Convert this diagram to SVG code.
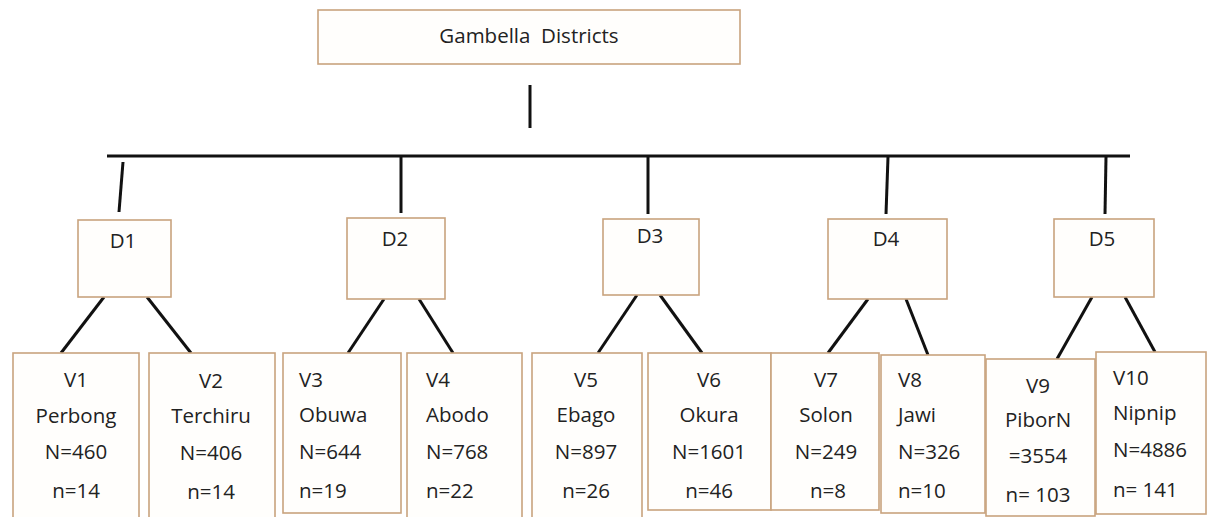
<svg xmlns="http://www.w3.org/2000/svg" width="1208" height="517" viewBox="0 0 1208 517">
<style>
.box{fill:#fffefc;stroke:#c9a37e;stroke-width:1.6}
.t{font-family:"Open Sans","Liberation Sans",sans-serif;font-size:20.5px;fill:#222}
.c{text-anchor:middle}
.ln{stroke:#111;stroke-width:3;fill:none;stroke-linecap:butt}
</style>
<rect width="1208" height="517" fill="#ffffff"/>
<g id="connectors">
<line class="ln" x1="530" y1="85" x2="530" y2="128"/>
<line class="ln" x1="107" y1="156" x2="1130" y2="156"/>
<line class="ln" x1="123" y1="162" x2="119" y2="212"/>
<line class="ln" x1="401" y1="157" x2="401" y2="213"/>
<line class="ln" x1="648" y1="157" x2="648" y2="214"/>
<line class="ln" x1="888" y1="157" x2="886" y2="214"/>
<line class="ln" x1="1106" y1="157" x2="1105" y2="214"/>
<line class="ln" x1="104" y1="297" x2="61" y2="353"/>
<line class="ln" x1="147" y1="297" x2="191" y2="353"/>
<line class="ln" x1="384" y1="299" x2="348" y2="353"/>
<line class="ln" x1="419" y1="299" x2="453" y2="353"/>
<line class="ln" x1="637" y1="295" x2="598" y2="353"/>
<line class="ln" x1="660" y1="295" x2="702" y2="353"/>
<line class="ln" x1="868" y1="299" x2="828" y2="353"/>
<line class="ln" x1="906" y1="299" x2="928" y2="355"/>
<line class="ln" x1="1092" y1="297" x2="1057" y2="359"/>
<line class="ln" x1="1125" y1="297" x2="1155" y2="352"/>
</g>
<g id="root">
<rect class="box" x="318" y="10" width="422" height="54"/>
<text class="t c" x="529" y="43" font-size="22" style="white-space:pre">Gambella  Districts</text>
</g>
<g id="D1"><rect class="box" x="78" y="220" width="93" height="77"/><text class="t c" x="123" y="248">D1</text></g>
<g id="D2"><rect class="box" x="347" y="218" width="98" height="81"/><text class="t c" x="395" y="246">D2</text></g>
<g id="D3"><rect class="box" x="603" y="219" width="96" height="76"/><text class="t c" x="650" y="243">D3</text></g>
<g id="D4"><rect class="box" x="828" y="219" width="119" height="80"/><text class="t c" x="886" y="246">D4</text></g>
<g id="D5"><rect class="box" x="1054" y="219" width="100" height="78"/><text class="t c" x="1102" y="246">D5</text></g>
<g id="V1"><rect class="box" x="13" y="353" width="126" height="170"/>
<text class="t c" x="76" y="387">V1</text><text class="t c" x="76" y="423">Perbong</text><text class="t c" x="76" y="459">N=460</text><text class="t c" x="76" y="498">n=14</text></g>
<g id="V2"><rect class="box" x="149" y="353" width="126" height="170"/>
<text class="t c" x="211" y="388">V2</text><text class="t c" x="211" y="423">Terchiru</text><text class="t c" x="211" y="460">N=406</text><text class="t c" x="211" y="499">n=14</text></g>
<g id="V3"><rect class="box" x="283" y="353" width="118" height="160"/>
<text class="t" x="299" y="387">V3</text><text class="t" x="299" y="422">Obuwa</text><text class="t" x="299" y="459">N=644</text><text class="t" x="299" y="498">n=19</text></g>
<g id="V4"><rect class="box" x="407" y="353" width="115" height="170"/>
<text class="t" x="426" y="387">V4</text><text class="t" x="426" y="422">Abodo</text><text class="t" x="426" y="459">N=768</text><text class="t" x="426" y="498">n=22</text></g>
<g id="V5"><rect class="box" x="532" y="353" width="110" height="170"/>
<text class="t c" x="586" y="387">V5</text><text class="t c" x="586" y="422">Ebago</text><text class="t c" x="586" y="459">N=897</text><text class="t c" x="586" y="498">n=26</text></g>
<g id="V6"><rect class="box" x="648" y="353" width="123" height="157"/>
<text class="t c" x="709" y="387">V6</text><text class="t c" x="709" y="422">Okura</text><text class="t c" x="709" y="459">N=1601</text><text class="t c" x="709" y="498">n=46</text></g>
<g id="V7"><rect class="box" x="771" y="353" width="108" height="157"/>
<text class="t c" x="826" y="387">V7</text><text class="t c" x="826" y="422">Solon</text><text class="t c" x="826" y="459">N=249</text><text class="t c" x="828" y="498">n=8</text></g>
<g id="V8"><rect class="box" x="881" y="355" width="104" height="158"/>
<text class="t" x="898" y="387">V8</text><text class="t" x="898" y="422">Jawi</text><text class="t" x="898" y="459">N=326</text><text class="t" x="898" y="498">n=10</text></g>
<g id="V9"><rect class="box" x="986" y="359" width="109" height="157"/>
<text class="t c" x="1038" y="393">V9</text><text class="t c" x="1038" y="427">PiborN</text><text class="t c" x="1038" y="463">=3554</text><text class="t c" x="1038" y="502">n= 103</text></g>
<g id="V10"><rect class="box" x="1096" y="352" width="110" height="162"/>
<text class="t" x="1113" y="385">V10</text><text class="t" x="1113" y="420">Nipnip</text><text class="t" x="1113" y="457">N=4886</text><text class="t" x="1113" y="497">n= 141</text></g>
</svg>
